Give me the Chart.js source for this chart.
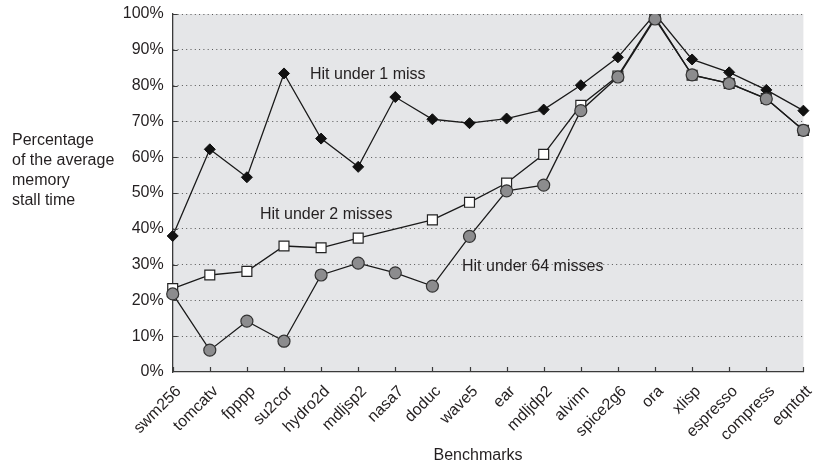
<!DOCTYPE html>
<html>
<head>
<meta charset="utf-8">
<script src="https://cdn.jsdelivr.net/npm/chart.js@4"></script>
<style>
  html, body { margin: 0; padding: 0; background: #fff; }
  #wrap { width: 820px; height: 470px; }
</style>
</head>
<body>
<div id="wrap"><canvas id="stallChart" width="820" height="470"></canvas></div>
<script>
var benchmarks = ['swm256', 'tomcatv', 'fpppp', 'su2cor', 'hydro2d', 'mdljsp2', 'nasa7', 'doduc', 'wave5',
    'ear', 'mdljdp2', 'alvinn', 'spice2g6', 'ora', 'xlisp', 'espresso', 'compress', 'eqntott'];

// percent of the average memory stall time
var hitUnder1 = [38.0, 62.2, 54.4, 83.4, 65.2, 57.3, 76.8, 70.6, 69.5,
    70.8, 73.3, 80.1, 87.9, 100, 87.3, 83.7, 78.8, 73.0];
var hitUnder2 = [23.3, 27.1, 28.1, 35.2, 34.7, 37.4, null, 42.5, 47.4,
    52.8, 60.8, 74.5, 82.7, 99.0, 82.9, 80.6, 76.4, 67.5];
var hitUnder64 = [21.8, 6.1, 14.2, 8.6, 27.1, 30.4, 27.7, 24.0, 37.9,
    50.6, 52.2, 73.0, 82.4, 98.6, 83.0, 80.6, 76.3, 67.5];

var yTicks = [0, 10, 20, 30, 40, 50, 60, 70, 80, 90, 100];
var yTitle = ['Percentage', 'of the average', 'memory', 'stall time'];

var fontFamily = '"Liberation Sans", Arial, Helvetica, sans-serif';
var textColor = '#231f20';

// gray plot background, inward ticks and free-standing labels
var decorations = {
    id: 'decorations',
    beforeDraw: function(chart) {
        var a = chart.chartArea, ctx = chart.ctx;
        ctx.save();
        ctx.fillStyle = '#e5e6e8';
        ctx.fillRect(a.left, a.top, a.right - a.left, a.bottom - a.top);
        ctx.restore();
    },
    afterDraw: function(chart) {
        var a = chart.chartArea, ctx = chart.ctx;
        var xs = chart.scales.x, ys = chart.scales.y;
        ctx.save();
        ctx.strokeStyle = '#3a3a3a';
        ctx.lineWidth = 1.2;
        ctx.beginPath();
        yTicks.forEach(function(v) {
            if (v === 0) return;
            var y = Math.round(ys.getPixelForValue(v)) + 0.5;
            ctx.moveTo(a.left, y);
            ctx.lineTo(a.left + 5, y);
        });
        benchmarks.forEach(function(b, i) {
            var x = Math.round(xs.getPixelForValue(i)) + 0.5;
            ctx.moveTo(x, a.bottom);
            ctx.lineTo(x, a.bottom - 5);
        });
        ctx.stroke();

        ctx.fillStyle = textColor;
        ctx.font = '16px ' + fontFamily;
        ctx.textBaseline = 'middle';
        ctx.textAlign = 'left';
        yTitle.forEach(function(line, i) {
            ctx.fillText(line, 12, 141 + i * 20);
        });
        ctx.fillText('Hit under 1 miss', 310, 75);
        ctx.fillText('Hit under 2 misses', 260, 215);
        ctx.fillText('Hit under 64 misses', 462, 267);
        ctx.textAlign = 'center';
        ctx.fillText('Benchmarks', 478, 456);
        ctx.restore();
    }
};

var ctx = document.getElementById('stallChart').getContext('2d');
var stallChart = new Chart(ctx, {
    type: 'line',
    data: {
        labels: benchmarks,
        datasets: [{
                label: 'Hit under 1 miss',
                data: hitUnder1,
                borderColor: '#1a1a1a',
                borderWidth: 1.3,
                pointStyle: 'rectRot',
                pointRadius: 5.5,
                pointBackgroundColor: '#111',
                pointBorderColor: '#111',
                pointBorderWidth: 1,
                order: 2
            },
            {
                label: 'Hit under 2 misses',
                data: hitUnder2,
                spanGaps: true,
                borderColor: '#1a1a1a',
                borderWidth: 1.3,
                pointStyle: 'rect',
                pointRadius: 7,
                pointBackgroundColor: '#fff',
                pointBorderColor: '#222',
                pointBorderWidth: 1.2,
                order: 1
            },
            {
                label: 'Hit under 64 misses',
                data: hitUnder64,
                borderColor: '#1a1a1a',
                borderWidth: 1.3,
                pointStyle: 'circle',
                pointRadius: 6,
                pointBackgroundColor: '#8c8c8e',
                pointBorderColor: '#333',
                pointBorderWidth: 1.2,
                order: 0
            }
        ]
    },
    options: {
        responsive: false,
        animation: false,
        layout: { padding: { left: 0, right: 16.6, top: 14, bottom: 0 } },
        plugins: {
            legend: { display: false },
            tooltip: { enabled: false }
        },
        elements: { line: { tension: 0 } },
        scales: {
            x: {
                offset: false,
                afterFit: function(scale) {
                    scale.height = 98;
                    scale.paddingLeft = 0;
                    scale.paddingRight = 0;
                },
                grid: { display: false, drawTicks: false },
                border: { display: true, color: '#3a3a3a', width: 1.3 },
                ticks: {
                    autoSkip: false,
                    minRotation: 45,
                    maxRotation: 45,
                    padding: 10,
                    labelOffset: 6,
                    color: textColor,
                    font: { family: fontFamily, size: 16 }
                }
            },
            y: {
                min: 0,
                max: 100,
                afterFit: function(scale) {
                    scale.width = 172.7;
                    scale.paddingTop = 0;
                    scale.paddingBottom = 0;
                },
                afterBuildTicks: function(scale) {
                    scale.ticks = yTicks.map(function(v) { return { value: v }; });
                },
                grid: {
                    drawTicks: false,
                    color: function(c) { return c.tick && c.tick.value === 0 ? 'rgba(0,0,0,0)' : '#555'; },
                    lineWidth: 1
                },
                border: { display: true, color: '#3a3a3a', width: 1.3, dash: [1, 3.3] },
                ticks: {
                    padding: 9,
                    color: textColor,
                    font: { family: fontFamily, size: 16 },
                    callback: function(v) { return v + '%'; }
                }
            }
        }
    },
    plugins: [decorations]
});
</script>
</body>
</html>
